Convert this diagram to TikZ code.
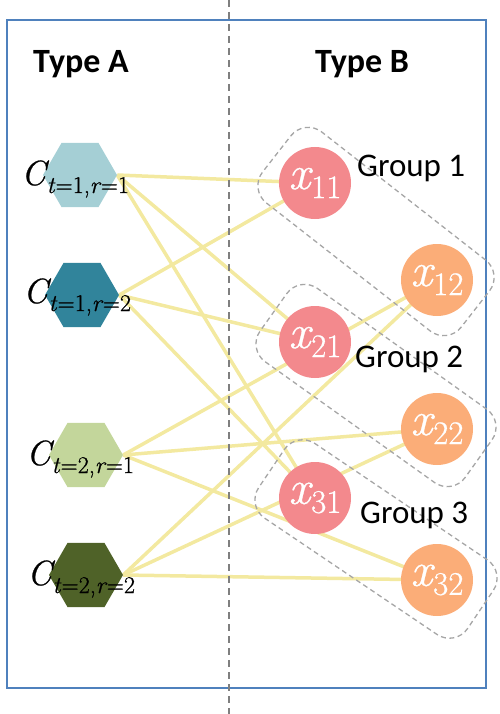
\documentclass[tikz,border=0pt]{standalone}
\usepackage{fontspec}
\newfontfamily\calibri{Carlito}
\newfontfamily\heavylm[FakeBold=0.7]{Latin Modern Roman}
\usetikzlibrary{shapes.geometric,backgrounds,calc}
\definecolor{boxblue}{HTML}{4F81BD}
\definecolor{midgrey}{HTML}{7F7F7F}
\definecolor{grpgrey}{HTML}{A6A6A6}
\definecolor{edgeyellow}{HTML}{F3E9A0}
\definecolor{xred}{HTML}{F3898D}
\definecolor{xorange}{HTML}{FBAD78}
\definecolor{hexA}{HTML}{A5CFD5}
\definecolor{hexB}{HTML}{31849B}
\definecolor{hexC}{HTML}{C3D69B}
\definecolor{hexD}{HTML}{4F6228}
\newcommand{\xlab}[1]{\heavylm{\fontsize{48}{50}\selectfont\itshape x}\kern1pt\raisebox{-9pt}{\fontsize{33}{35}\selectfont #1}}
\newcommand{\clab}[2]{\heavylm{\fontsize{35}{37}\selectfont\itshape C}\kern1pt\raisebox{-8pt}{\fontsize{24}{26}\selectfont\itshape t\kern1pt\upshape=#1,\itshape r\kern1pt\upshape=#2}}
\begin{document}
\begin{tikzpicture}[x=1pt,y=-1pt,
  hexa/.style={regular polygon, regular polygon sides=6, minimum size=74pt, inner sep=0pt, draw=none},
  clabel/.style={anchor=base west, inner sep=0pt},
  xnode/.style={circle, minimum size=72pt, inner sep=0pt, text=white},
  grp/.style={draw=grpgrey, dash pattern=on 5pt off 3.5pt, line width=1.3pt, rounded corners=22pt, minimum width=252pt, minimum height=90pt, inner sep=0pt},
  link/.style={draw=edgeyellow, line width=3.5pt},
  typelabel/.style={anchor=base, inner sep=0pt, font=\calibri\bfseries\fontsize{34}{40}\selectfont},
  grouplabel/.style={anchor=base west, inner sep=0pt, font=\calibri\fontsize{33}{40}\selectfont}]
\useasboundingbox (0,0) rectangle (499,714);

% frame and divider
\draw[boxblue, line width=2pt] (7,20) rectangle (486,688);
\coordinate (dtop) at (229,0);
\coordinate (dbot) at (229,714);
\draw[midgrey, line width=2pt, dash pattern=on 7pt off 5pt] (dtop) -- (dbot);

% headers
\node[typelabel] (tA) at (81,73) {Type A};
\node[typelabel] (tB) at (362,73) {Type B};

% hexagons
\node[hexa, fill=hexA] (C11) at (80,175) {};
\node[hexa, fill=hexB] (C12) at (82,295) {};
\node[hexa, fill=hexC] (C21) at (86,455) {};
\node[hexa, fill=hexD] (C22) at (86,575) {};
\node[clabel] (L11) at (21,185) {\clab{1}{1}};
\node[clabel] (L12) at (23,303) {\clab{1}{2}};
\node[clabel] (L21) at (26,465) {\clab{2}{1}};
\node[clabel] (L22) at (27,585) {\clab{2}{2}};

% circles
\node[xnode, fill=xred] (x11) at (315,183) {\xlab{11}};
\node[xnode, fill=xred] (x21) at (315,342) {\xlab{21}};
\node[xnode, fill=xred] (x31) at (315,498) {\xlab{31}};
\node[xnode, fill=xorange] (x12) at (437,280) {\xlab{12}};
\node[xnode, fill=xorange] (x22) at (437,429) {\xlab{22}};
\node[xnode, fill=xorange] (x32) at (437,580) {\xlab{32}};

% groups
\node[grp, rotate=-38] (g1) at ($(x11)!0.5!(x12)$) {};
\node[grp, rotate=-35.5] (g2) at ($(x21)!0.5!(x22)$) {};
\node[grp, rotate=-34] (g3) at ($(x31)!0.5!(x32)$) {};
\node[grouplabel] (gl1) at (357,177) {Group 1};
\node[grouplabel] (gl2) at (355,367) {Group 2};
\node[grouplabel] (gl3) at (360,523) {Group 3};

% edges
\begin{pgfonlayer}{background}
\foreach \a/\b in {C11/x11, C11/x21, C11/x31, C12/x11, C12/x21, C12/x31,
                   C21/x12, C21/x22, C21/x32, C22/x12, C22/x22, C22/x32}
  \draw[link] (\a.east) -- (\b.center);
\end{pgfonlayer}
\end{tikzpicture}
\end{document}
